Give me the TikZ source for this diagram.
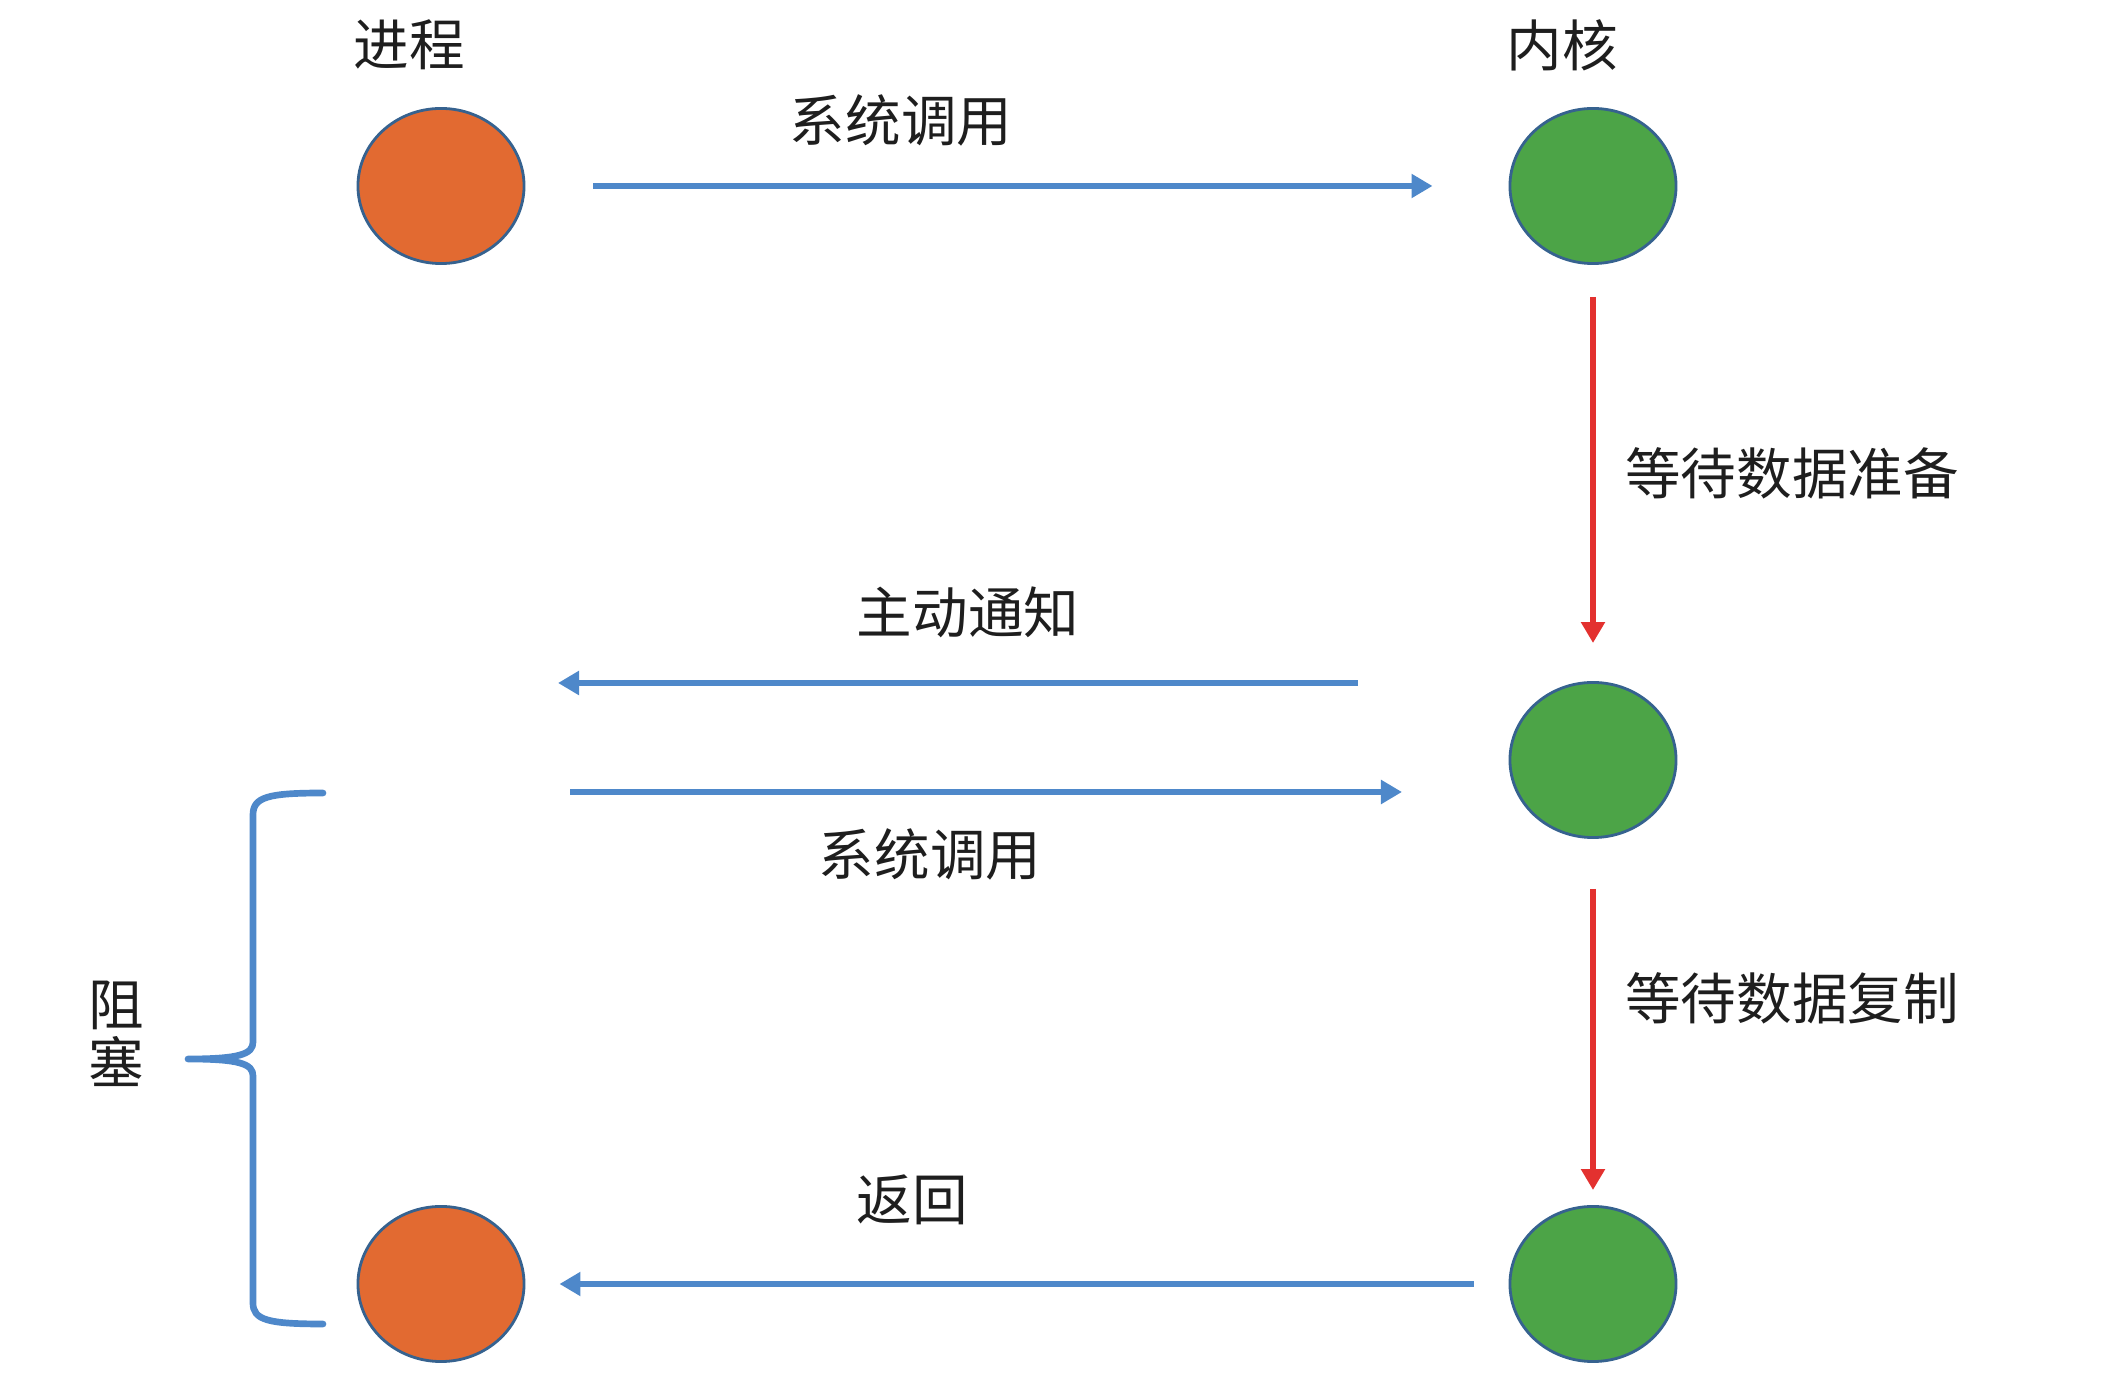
\documentclass[tikz,border=0pt]{standalone}
\usepackage{fontspec}
\setmainfont{Noto Sans CJK SC}
\usetikzlibrary{arrows.meta,shapes.geometric}
\definecolor{procorange}{HTML}{E26A31}
\definecolor{kerngreen}{HTML}{4CA447}
\definecolor{rimblue}{HTML}{36628F}
\definecolor{flowblue}{HTML}{4E88CA}
\definecolor{waitred}{HTML}{E3312F}
\definecolor{inktext}{HTML}{1E1E1E}
\tikzset{
  state/.style={ellipse,draw=rimblue,line width=0.8pt,minimum width=1.66cm,minimum height=1.55cm,inner sep=0pt},
  proc/.style={state,fill=procorange},
  kern/.style={state,fill=kerngreen},
  flow/.style={draw=flowblue,line width=1.9pt,-{Triangle[length=2.1mm,width=2.3mm]}},
  wait/.style={draw=waitred,line width=1.9pt,-{Triangle[length=2.1mm,width=2.3mm]}},
  lbl/.style={text=inktext,font=\fontsize{15.8}{16}\selectfont,inner sep=0pt},
  bracket/.style={draw=flowblue,line width=1.9pt,line cap=round,line join=round}
}
\begin{document}
\begin{tikzpicture}[x=0.01cm,y=-0.01cm]
\useasboundingbox (0,0) rectangle (2108,1392);

% process and kernel states
\node[proc] (p1) at (441,186) {};
\node[kern] (k1) at (1593,186) {};
\node[kern] (k2) at (1593,760) {};
\node[kern] (k3) at (1593,1284) {};
\node[proc] (p2) at (441,1284) {};

% column headings
\node[lbl] (hproc) at (409,45) {进程};
\node[lbl] (hkern) at (1562,45) {内核};

% free ends of the middle exchange
\coordinate (nfrom) at (1358,683);
\coordinate (nto) at (558,683);
\coordinate (cfrom) at (570,792);
\coordinate (cto) at (1402,792);

% first system call
\draw[flow,shorten <=0.68cm,shorten >=0.76cm] (p1) -- (k1);
\node[lbl] (l1) at (901,120) {系统调用};

% waiting for data to be ready
\draw[wait,shorten <=0.32cm,shorten >=0.38cm] (k1) -- (k2);
\node[lbl] (l2) at (1792,473) {等待数据准备};

% notification back to the process
\draw[flow] (nfrom) -- (nto);
\node[lbl] (l3) at (968,612) {主动通知};

% second system call
\draw[flow] (cfrom) -- (cto);
\node[lbl] (l4) at (930,854) {系统调用};

% waiting for data to be copied
\draw[wait,shorten <=0.5cm,shorten >=0.15cm] (k2) -- (k3);
\node[lbl] (l5) at (1792,998) {等待数据复制};

% return to the process
\draw[flow,shorten <=0.35cm,shorten >=0.34cm] (k3) -- (p2);
\node[lbl] (l6) at (912,1200) {返回};

% blocking interval
\draw[bracket] (323,793) .. controls (268,793) and (253,797) .. (253,815)
  -- (253,1042) .. controls (253,1054) and (240,1059) .. (188,1059)
  .. controls (240,1059) and (253,1064) .. (253,1076)
  -- (253,1303) .. controls (253,1320) and (268,1324) .. (323,1324);
\node[lbl,align=center,font=\fontsize{15.8}{16.5}\selectfont] (blk) at (116,1034) {阻\\塞};
\end{tikzpicture}
\end{document}
